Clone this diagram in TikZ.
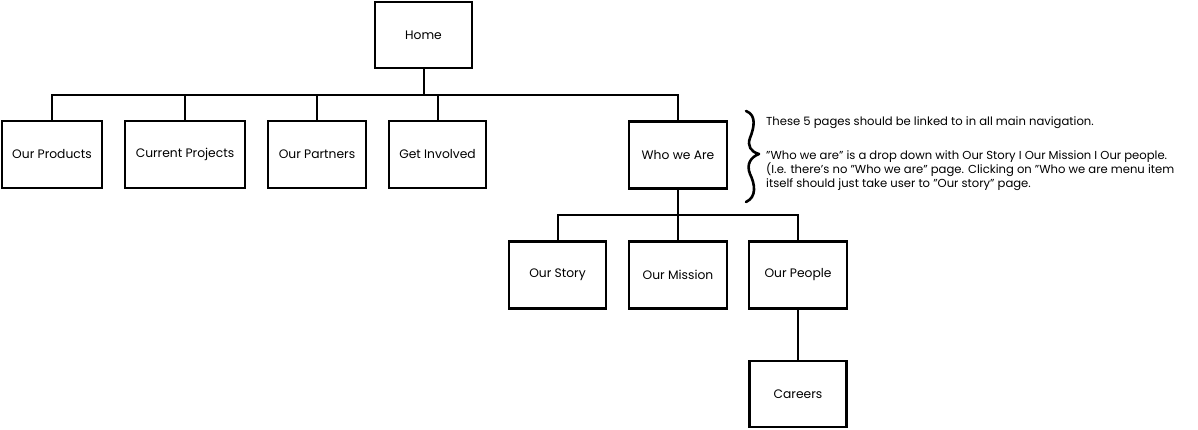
\documentclass[tikz,border=0pt]{standalone}
\usepackage{fontspec}
\setmainfont{Poppins}[Ligatures=NoCommon]
\newcommand{\q}{\char34\relax}
\tikzset{
  page/.style={draw=black, line width=2.2pt, fill=white, minimum width=97pt, minimum height=66pt, inner sep=0pt, font=\fontsize{12.3}{14}\selectfont},
  link/.style={draw=black, line width=2pt},
  bracestyle/.style={draw=black, line width=2.6pt, line cap=round, line join=round}
}
\begin{document}
\begin{tikzpicture}[x=1pt,y=-1pt]
\useasboundingbox (0,0) rectangle (1198,430);
% nodes
\node[page] (home) at (423.5,35) {Home};
\node[page, minimum width=100pt, minimum height=67pt] (prod) at (52,154.5) {Our Products};
\node[page, minimum width=120pt, minimum height=67pt] (proj) at (185,154.5) {Current Projects};
\node[page, minimum width=98pt, minimum height=67pt] (part) at (317,154.5) {Our Partners};
\node[page, minimum height=67pt] (inv) at (437.5,154.5) {Get Involved};
\node[page, minimum width=98pt, minimum height=67pt] (who) at (678,155) {Who we Are};
\node[page, minimum height=67pt] (story) at (557.5,275) {Our Story};
\node[page, minimum width=98pt, minimum height=67pt] (miss) at (678,275) {Our Mission};
\node[page, minimum width=98pt, minimum height=67pt] (people) at (798,275) {Our People};
\node[page] (car) at (798,394) {Careers};
% buses
\coordinate (b1) at (423.5,95);
\coordinate (b2) at (678,215);
\draw[link] (home.south) -- (b1);
\foreach \n in {prod,proj,part,inv,who} \draw[link] (b1) -| (\n.north);
\draw[link] (who.south) -- (b2);
\foreach \n in {story,miss,people} \draw[link] (b2) -| (\n.north);
\draw[link] (people.south) -- (car.north);
% brace
\coordinate (bt) at (746,111);
\coordinate (btip) at (759,154);
\coordinate (bb) at (746,202);
\draw[bracestyle] (bt) .. controls (757,115) and (754,128) .. (750,138)
  .. controls (747,146) and (751,152) .. (btip)
  .. controls (751,157) and (746,164) .. (750,174)
  .. controls (755,184) and (757,197) .. (bb);
\node[anchor=north west, align=left, inner sep=0pt, font=\fontsize{11.6}{13.2}\selectfont] (note) at (766,116)
{These 5 pages should be linked to in all main navigation.\\[20.8pt]
\q Who we are\q{} is a drop down with Our Story I Our Mission I Our people.\\
(I.e. there's no \q Who we are\q{} page. Clicking on \q Who we are menu item\\
itself should just take user to \q Our story\q{} page.};
\end{tikzpicture}
\end{document}
